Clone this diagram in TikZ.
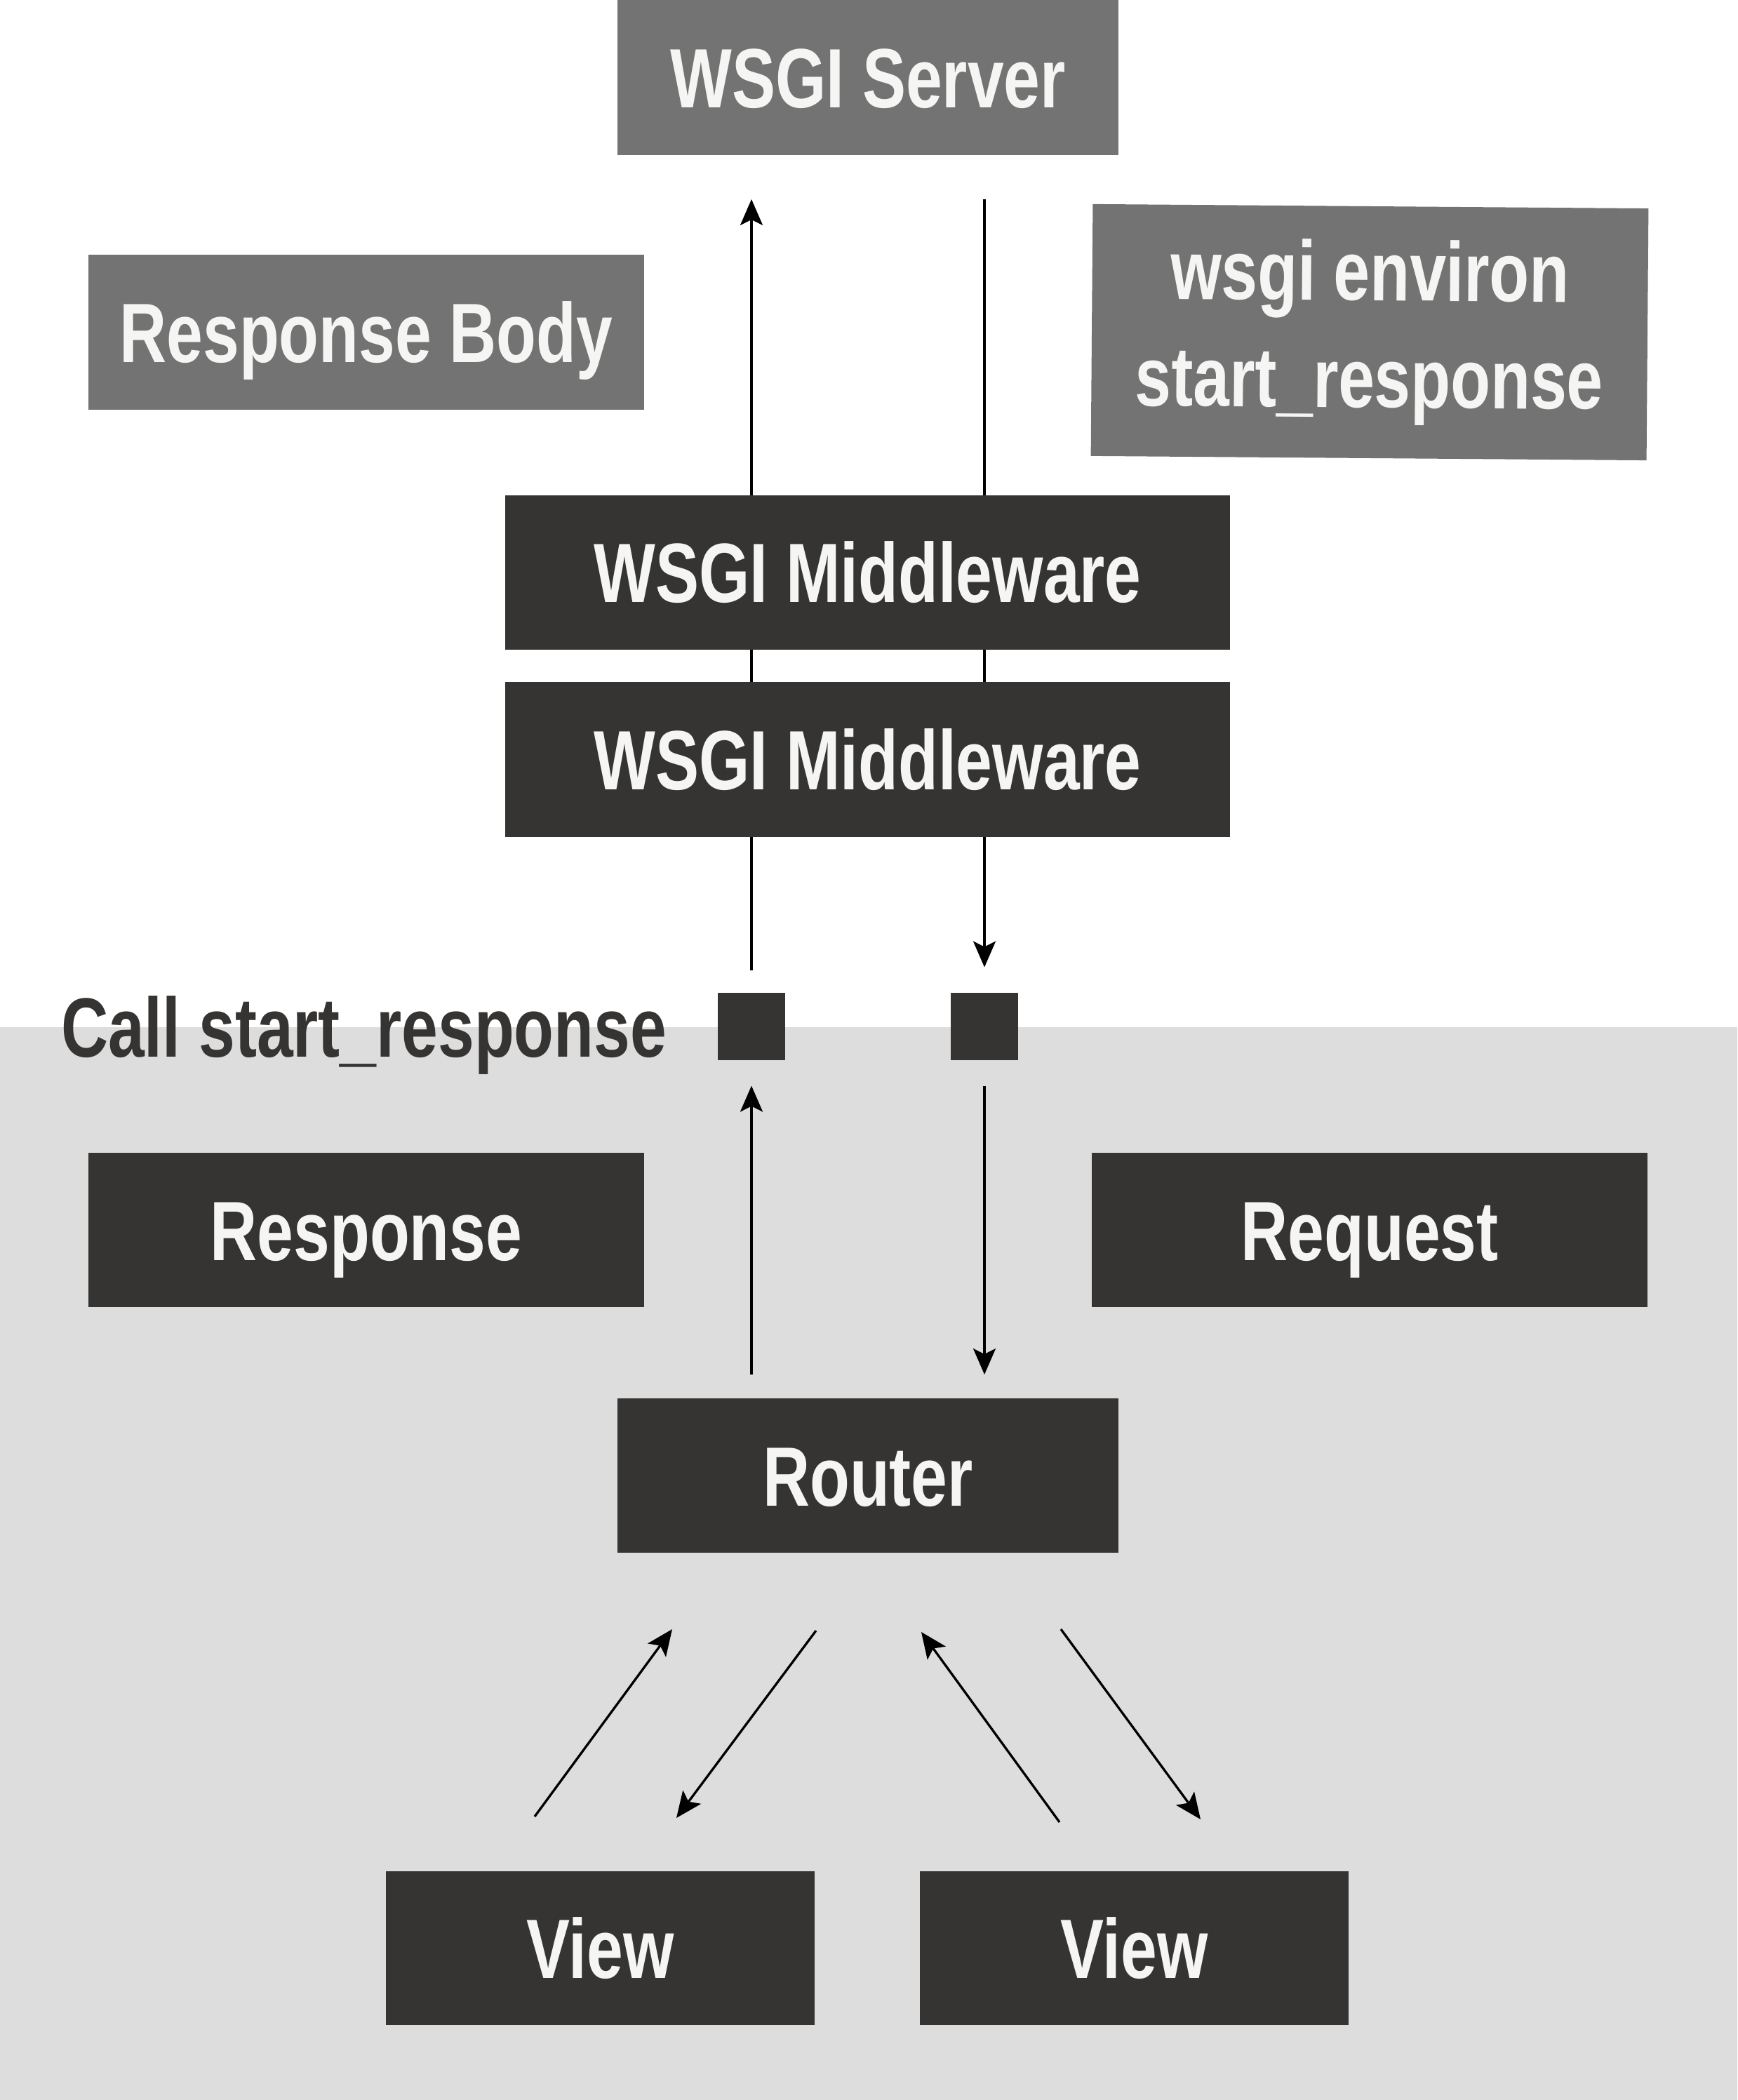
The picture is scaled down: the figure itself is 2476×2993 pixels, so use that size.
\documentclass[tikz,border=0pt]{standalone}
\usepackage{fontspec}
\newfontfamily\cond[FakeStretch=0.775]{Liberation Sans}
\usetikzlibrary{arrows.meta,calc}
\pgfdeclarelayer{bg}
\pgfdeclarelayer{lines}
\pgfsetlayers{bg,lines,main}
\definecolor{dark}{RGB}{53,52,50}
\definecolor{midgray}{RGB}{115,115,115}
\definecolor{bgc}{RGB}{220,221,220}
\definecolor{txtw}{RGB}{245,246,244}
\begin{document}
\begin{tikzpicture}[x=0.2pt,y=-0.2pt,
  lbl/.style={font=\cond\bfseries\fontsize{24}{30.5}\selectfont},
  box/.style={lbl, inner sep=0pt, text=txtw, text height=17.2pt, text depth=0pt},
  darkbox/.style={box, fill=dark},
  graybox/.style={box, fill=midgray},
  sq/.style={fill=dark, inner sep=0pt, minimum size=19.2pt},
  arr/.style={line width=0.66pt, -{Stealth[length=7.4pt,width=6.4pt,inset=1.6pt]}}]
\useasboundingbox (0,0) rectangle (2476,2993);
\begin{pgfonlayer}{bg}
  \fill[white] (0,0) rectangle (2476,2993);
  \fill[bgc] (0,1464) rectangle (2476,2993);
\end{pgfonlayer}
% nodes
\node[graybox, minimum width=142.8pt, minimum height=44.2pt] (srv) at (1237,110.5) {WSGI Server};
\node[graybox, minimum width=158.4pt, minimum height=44.2pt] (rbody) at (522,473.5) {Response Body};
\node[graybox, minimum width=158.4pt, minimum height=71.8pt, text height=, text depth=, align=center, rotate=-0.45] (env) at (1952,473.5) {\baselineskip=30.5pt wsgi environ\\start\_response};
\node[darkbox, minimum width=206.6pt, minimum height=44pt] (mw1) at (1236.5,816) {WSGI Middleware};
\node[darkbox, minimum width=206.6pt, minimum height=44pt] (mw2) at (1236.5,1082.5) {WSGI Middleware};
\node[sq] (sqL) at (1071,1462.5) {};
\node[sq] (sqR) at (1403,1462.5) {};
\node[lbl, anchor=base west, inner sep=0pt, text=dark] (call) at (86,1506) {Call start\_response};
\node[darkbox, minimum width=158.4pt, minimum height=44pt] (resp) at (522,1753) {Response};
\node[darkbox, minimum width=158.4pt, minimum height=44pt] (req) at (1952,1753) {Request};
\node[darkbox, minimum width=142.8pt, minimum height=44pt] (router) at (1237,2103) {Router};
\node[darkbox, minimum width=122.2pt, minimum height=43.8pt] (viewL) at (855.5,2776.5) {View};
\node[darkbox, minimum width=122.2pt, minimum height=43.8pt] (viewR) at (1616.5,2776.5) {View};
% connectors
\begin{pgfonlayer}{lines}
  \draw[arr, shorten <=6.2pt, shorten >=12.4pt] (sqL.north) -- (sqL.north |- srv.south);
  \draw[arr, shorten <=12.4pt, shorten >=7pt] (sqR.north |- srv.south) -- (sqR.north);
  \draw[arr, shorten <=6.6pt, shorten >=7.2pt] (sqL.south |- router.north) -- (sqL.south);
  \draw[arr, shorten <=7.2pt, shorten >=6.6pt] (sqR.south) -- (sqR.south |- router.north);
  \draw[arr] ($(viewL.north)+(-93.5,-77)$) -- ($(router.south)+(-279,108)$);
  \draw[arr] ($(router.south)+(-74,110)$) -- ($(viewL.north)+(108.5,-75)$);
  \draw[arr] ($(viewR.north)+(-106.5,-69)$) -- ($(router.south)+(76,112)$);
  \draw[arr] ($(router.south)+(275,108)$) -- ($(viewR.north)+(94.5,-73)$);
\end{pgfonlayer}
\end{tikzpicture}
\end{document}
